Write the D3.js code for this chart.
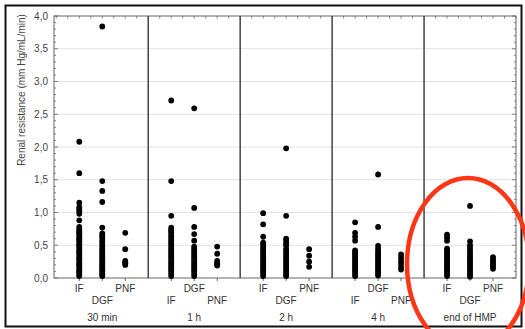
<!DOCTYPE html>
<html>
<head>
<meta charset="utf-8">
<script src="https://cdn.jsdelivr.net/npm/d3@7"></script>
<style>
  body { margin: 0; background: #fff; }
  text { font-family: "Liberation Sans", Arial, sans-serif; fill: #333; }
</style>
</head>
<body>
<svg id="chart" width="525" height="329"></svg>
<script>
// time points (panels) and outcome groups inside each
const timepoints = ["30 min", "1 h", "2 h", "4 h", "end of HMP"];
const groups = ["IF", "DGF", "PNF"];
const yTicks = [0, 0.5, 1, 1.5, 2, 2.5, 3, 3.5, 4];

// renal resistance values, one array per panel and group
const if30 = [2.08, 1.60, 1.15, 1.08, 1.05, 1.02, 0.98, 0.88, 0.78, 0.75, 0.72, 0.70, 0.68, 0.65, 0.62, 0.60, 0.58, 0.55, 0.52, 0.50, 0.48, 0.45, 0.42, 0.40, 0.38, 0.35, 0.32, 0.30, 0.28, 0.25, 0.22, 0.20, 0.18, 0.15, 0.12, 0.10, 0.08, 0.05, 0.03];
const dgf30 = [3.84, 1.48, 1.33, 1.16, 0.77, 0.68, 0.65, 0.62, 0.58, 0.55, 0.52, 0.48, 0.45, 0.42, 0.40, 0.37, 0.35, 0.32, 0.30, 0.27, 0.25, 0.22, 0.20, 0.17, 0.15, 0.12, 0.10, 0.07, 0.05, 0.03];
const pnf30 = [0.69, 0.44, 0.26, 0.24, 0.22, 0.20];

const if1h = [2.71, 1.48, 0.95, 0.77, 0.74, 0.72, 0.70, 0.66, 0.63, 0.60, 0.57, 0.54, 0.51, 0.48, 0.45, 0.42, 0.39, 0.36, 0.33, 0.30, 0.27, 0.24, 0.21, 0.18, 0.15, 0.12, 0.09, 0.06, 0.03];
const dgf1h = [2.59, 1.07, 0.78, 0.67, 0.57, 0.48, 0.45, 0.42, 0.39, 0.36, 0.33, 0.30, 0.27, 0.24, 0.21, 0.18, 0.15, 0.12, 0.09, 0.06, 0.03];
const pnf1h = [0.48, 0.37, 0.26, 0.23, 0.21, 0.19];

const if2h = [0.99, 0.82, 0.63, 0.54, 0.51, 0.48, 0.45, 0.42, 0.39, 0.36, 0.33, 0.30, 0.27, 0.24, 0.21, 0.18, 0.15, 0.12, 0.09, 0.06, 0.03];
const dgf2h = [1.98, 0.95, 0.60, 0.57, 0.53, 0.50, 0.45, 0.41, 0.38, 0.35, 0.32, 0.29, 0.26, 0.23, 0.20, 0.17, 0.14, 0.11, 0.08, 0.05, 0.03];
const pnf2h = [0.44, 0.34, 0.25, 0.17];

const if4h = [0.85, 0.69, 0.63, 0.57, 0.42, 0.39, 0.36, 0.33, 0.30, 0.27, 0.24, 0.21, 0.18, 0.15, 0.12, 0.09, 0.06, 0.03];
const dgf4h = [1.58, 0.78, 0.49, 0.44, 0.40, 0.37, 0.34, 0.31, 0.28, 0.25, 0.22, 0.19, 0.16, 0.13, 0.10, 0.07, 0.04];
const pnf4h = [0.36, 0.31, 0.26, 0.22, 0.17, 0.13];

const ifEnd = [0.66, 0.62, 0.57, 0.45, 0.42, 0.39, 0.36, 0.33, 0.30, 0.27, 0.24, 0.21, 0.18, 0.15, 0.12, 0.09, 0.06, 0.03];
const dgfEnd = [1.10, 0.56, 0.50, 0.46, 0.42, 0.38, 0.35, 0.32, 0.29, 0.26, 0.23, 0.20, 0.17, 0.14, 0.11, 0.08, 0.05, 0.02];
const pnfEnd = [0.32, 0.29, 0.26, 0.23, 0.20, 0.17, 0.14];

const values = [
  [if30, dgf30, pnf30],
  [if1h, dgf1h, pnf1h],
  [if2h, dgf2h, pnf2h],
  [if4h, dgf4h, pnf4h],
  [ifEnd, dgfEnd, pnfEnd]
];

const svg = d3.select("#chart");
const pLeft = 54, pRight = 516, pTop = 16, pBottom = 278;

// 4 slots per panel: divider, IF, DGF, PNF
const x = d3.scaleLinear().domain([-0.1, 20]).range([pLeft, pRight]);
const y = d3.scaleLinear().domain([0, 4]).range([pBottom, pTop]);
const pos = (p, g) => 4 * p + g + 1;
const fmt = v => d3.format(".1f")(v).replace(".", ",");

// outer frame
svg.append("rect")
  .attr("x", 5.5).attr("y", 5.5)
  .attr("width", 516).attr("height", 321)
  .style("fill", "none").style("stroke", "#111").style("stroke-width", 2);

// gridlines
svg.append("g").selectAll("line")
  .data(yTicks.slice(1, -1))
  .join("line")
  .attr("x1", pLeft).attr("x2", pRight)
  .attr("y1", d => y(d)).attr("y2", d => y(d))
  .style("stroke", "#e2e2e2").style("stroke-width", 1);

// left axis labels
const yAxis = svg.append("g")
  .attr("transform", `translate(${pLeft},0)`)
  .call(d3.axisLeft(y).tickValues(yTicks).tickSize(0).tickPadding(6).tickFormat(fmt));
yAxis.select(".domain").remove();
yAxis.selectAll("text").style("font-size", "10px").style("fill", "#444");

// inward major/minor ticks on both sides
const minor = d3.range(0, 41).map(i => i / 10);
[pLeft, pRight].forEach(xx => {
  const dir = xx === pLeft ? 1 : -1;
  svg.append("g").selectAll("line")
    .data(minor)
    .join("line")
    .attr("x1", xx).attr("x2", d => xx + dir * (Math.round(d * 10) % 5 === 0 ? 4 : 2))
    .attr("y1", d => y(d)).attr("y2", d => y(d))
    .style("stroke", "#666").style("stroke-width", 0.8);
});

// top minor ticks
svg.append("g").selectAll("line")
  .data(d3.range(0, 41).map(i => i / 2))
  .join("line")
  .attr("x1", d => x(d)).attr("x2", d => x(d))
  .attr("y1", pTop).attr("y2", pTop + 2.5)
  .style("stroke", "#666").style("stroke-width", 0.8);

// plot border
svg.append("rect")
  .attr("x", pLeft).attr("y", pTop)
  .attr("width", pRight - pLeft).attr("height", pBottom - pTop)
  .style("fill", "none").style("stroke", "#666").style("stroke-width", 1);

// panel dividers
svg.append("g").selectAll("line")
  .data(d3.range(1, timepoints.length))
  .join("line")
  .attr("x1", d => x(4 * d)).attr("x2", d => x(4 * d))
  .attr("y1", pTop).attr("y2", pBottom)
  .style("stroke", "#444").style("stroke-width", 1.5);

// category ticks and labels (alternating rows)
const cats = [];
timepoints.forEach((t, p) => groups.forEach((g, j) => cats.push({ p, j, g, i: cats.length })));

svg.append("g").selectAll("line")
  .data(cats)
  .join("line")
  .attr("x1", d => x(pos(d.p, d.j))).attr("x2", d => x(pos(d.p, d.j)))
  .attr("y1", pBottom).attr("y2", pBottom + 3)
  .style("stroke", "#666");

svg.append("g").selectAll("text")
  .data(cats)
  .join("text")
  .attr("x", d => x(pos(d.p, d.j)))
  .attr("y", d => d.i % 2 === 0 ? 292 : 304)
  .attr("text-anchor", "middle")
  .style("font-size", "10px")
  .text(d => d.g);

svg.append("g").selectAll("text")
  .data(timepoints)
  .join("text")
  .attr("x", (d, p) => x(pos(p, 1)))
  .attr("y", 321)
  .attr("text-anchor", "middle")
  .style("font-size", "10px")
  .text(d => d);

// y title
svg.append("text")
  .attr("transform", "translate(25,90) rotate(-90)")
  .attr("text-anchor", "middle")
  .style("font-size", "10px")
  .style("fill", "#444")
  .text("Renal resistance (mm Hg/mL/min)");

// points
const pts = [];
values.forEach((panel, p) => panel.forEach((arr, j) => arr.forEach(v => pts.push({ p, j, v }))));

svg.append("g").selectAll("circle")
  .data(pts)
  .join("circle")
  .attr("cx", d => x(pos(d.p, d.j)))
  .attr("cy", d => y(d.v))
  .attr("r", 2.9)
  .style("fill", "#000");

// red highlight ellipse
svg.append("ellipse")
  .attr("cx", x(pos(4, 1)) - 2)
  .attr("cy", 264)
  .attr("rx", 61)
  .attr("ry", 86)
  .style("fill", "none")
  .style("stroke", "#ff3516")
  .style("stroke-width", 4.5);
</script>
</body>
</html>
